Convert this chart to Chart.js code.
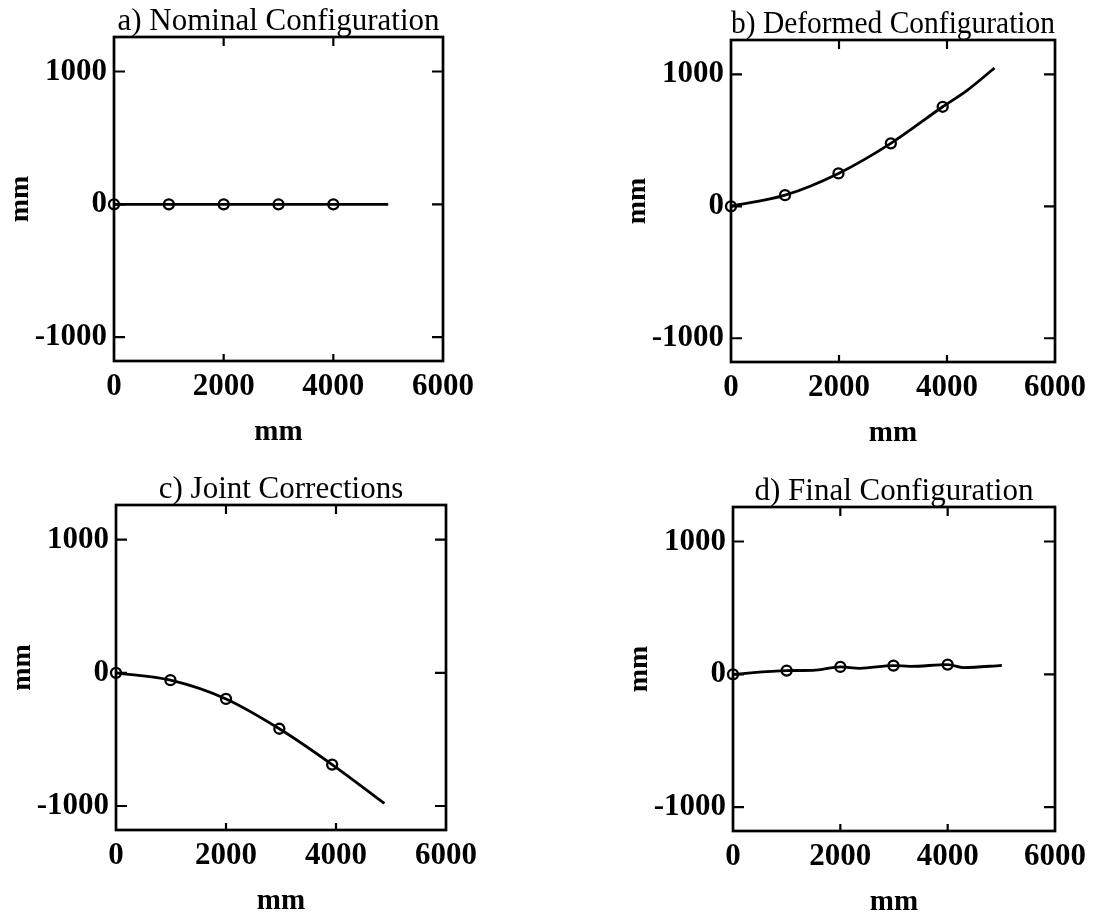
<!DOCTYPE html>
<html>
<head>
<meta charset="utf-8">
<script src="https://cdn.jsdelivr.net/npm/chart.js@4/dist/chart.umd.min.js"></script>
<style>
  body { margin: 0; background: #fff; }
  #wrap { position: relative; width: 1094px; height: 915px; overflow: hidden; }
  canvas { position: absolute; }
</style>
</head>
<body>
<div id="wrap">
  <canvas id="ca"></canvas>
  <canvas id="cb"></canvas>
  <canvas id="cc"></canvas>
  <canvas id="cd"></canvas>
</div>
<script>
// tick values
const xTickVals = [0, 2000, 4000, 6000];
const yTickVals = [-1000, 0, 1000];

// a) nominal: joints and beam line
const aJointX = [0, 1000, 2000, 3000, 4000];
const aJointY = [0, 0, 0, 0, 0];
const aLineX = [0, 1000, 2000, 3000, 4000, 5000];
const aLineY = [0, 0, 0, 0, 0, 0];

// b) deformed
const bJointX = [0, 1000, 1990, 2960, 3920];
const bJointY = [0, 84, 249, 477, 754];
const bLineX = [0, 1000, 1990, 2960, 3920, 4380, 4880];
const bLineY = [0, 84, 249, 477, 754, 881, 1048];

// c) joint corrections
const cJointX = [0, 990, 2000, 2970, 3930];
const cJointY = [0, -55, -196, -420, -689];
const cLineX = [0, 990, 2000, 2970, 3930, 4880];
const cLineY = [0, -55, -196, -420, -689, -981];

// d) final
const dJointX = [0, 1000, 2000, 2990, 4000];
const dJointY = [0, 28, 56, 66, 73];
const dLineX = [0, 1000, 1490, 2000, 2360, 2990, 3300, 4000, 4300, 5010];
const dLineY = [0, 28, 30, 56, 45, 66, 60, 73, 50, 68];

const serif = "'Liberation Serif', 'Times New Roman', serif";

const frame = {
  id: 'frame',
  beforeDatasetsDraw(chart) {
    const { ctx, chartArea: a, scales: { x, y } } = chart;
    ctx.save();
    ctx.strokeStyle = '#000';
    ctx.lineWidth = 2.7;
    ctx.strokeRect(a.left, a.top, a.right - a.left, a.bottom - a.top);
    ctx.lineWidth = 2.2;
    ctx.beginPath();
    yTickVals.forEach(v => {
      const p = y.getPixelForValue(v);
      ctx.moveTo(a.left, p); ctx.lineTo(a.left + 11, p);
      ctx.moveTo(a.right, p); ctx.lineTo(a.right - 11, p);
    });
    [2000, 4000].forEach(v => {
      const p = x.getPixelForValue(v);
      ctx.moveTo(p, a.top); ctx.lineTo(p, a.top + 9);
      ctx.moveTo(p, a.bottom); ctx.lineTo(p, a.bottom - 7);
    });
    ctx.stroke();
    ctx.restore();
  }
};

function pts(xs, ys) {
  return xs.map((v, i) => ({ x: v, y: ys[i] }));
}

function panel(id, title, box, jx, jy, lx, ly) {
  const el = document.getElementById(id);
  const w = 114 + box.w + 40;
  const h = 37 + box.h + 92;
  el.width = w; el.height = h;
  el.style.left = (box.l - 114) + 'px';
  el.style.top = (box.t - 37) + 'px';

  new Chart(el, {
    type: 'scatter',
    data: {
      datasets: [{
        data: pts(lx, ly),
        showLine: true,
        borderColor: '#000',
        borderWidth: 2.8,
        pointRadius: 0,
        cubicInterpolationMode: 'monotone'
      }, {
        data: pts(jx, jy),
        showLine: false,
        borderColor: '#000',
        backgroundColor: 'rgba(0,0,0,0)',
        borderWidth: 2.3,
        pointRadius: 5,
        clip: false
      }]
    },
    options: {
      responsive: false,
      animation: false,
      layout: { padding: { left: 0, right: 40, top: 0, bottom: 0 } },
      plugins: {
        legend: { display: false },
        tooltip: { enabled: false },
        title: {
          display: true,
          text: title,
          fullSize: false,
          color: '#000',
          font: { family: serif, size: 31, weight: 'normal', lineHeight: 1.0 },
          padding: { top: 6, bottom: 0 }
        }
      },
      scales: {
        x: {
          type: 'linear',
          min: 0, max: 6000,
          afterBuildTicks: s => { s.ticks = xTickVals.map(v => ({ value: v })); },
          afterFit: s => { s.height = 89; },
          grid: { display: false, drawTicks: false },
          border: { display: false },
          ticks: {
            color: '#000', padding: 7, maxRotation: 0,
            font: { family: serif, size: 31, weight: 'bold' },
            callback: v => String(v)
          },
          title: {
            display: true, text: 'mm', color: '#000',
            font: { family: serif, size: 29, weight: 'bold' },
            padding: { top: 0, bottom: 0 }
          }
        },
        y: {
          type: 'linear',
          min: -1180, max: 1260,
          afterBuildTicks: s => { s.ticks = yTickVals.map(v => ({ value: v })); },
          afterFit: s => { s.width = 114; },
          grid: { display: false, drawTicks: false },
          border: { display: false },
          ticks: {
            color: '#000', padding: 7,
            font: { family: serif, size: 31, weight: 'bold' },
            callback: v => String(v)
          },
          title: {
            display: true, text: 'mm', color: '#000',
            font: { family: serif, size: 28, weight: 'bold' },
            padding: { top: 4, bottom: 0 }
          }
        }
      }
    },
    plugins: [frame]
  });
}

panel('ca', 'a) Nominal Configuration', { l: 114, t: 37, w: 329, h: 321 }, aJointX, aJointY, aLineX, aLineY);
panel('cb', 'b) Deformed Configuration', { l: 731, t: 40, w: 324, h: 319 }, bJointX, bJointY, bLineX, bLineY);
panel('cc', 'c) Joint Corrections', { l: 116, t: 505, w: 330, h: 322 }, cJointX, cJointY, cLineX, cLineY);
panel('cd', 'd) Final Configuration', { l: 733, t: 507, w: 322, h: 321 }, dJointX, dJointY, dLineX, dLineY);
</script>
</body>
</html>
